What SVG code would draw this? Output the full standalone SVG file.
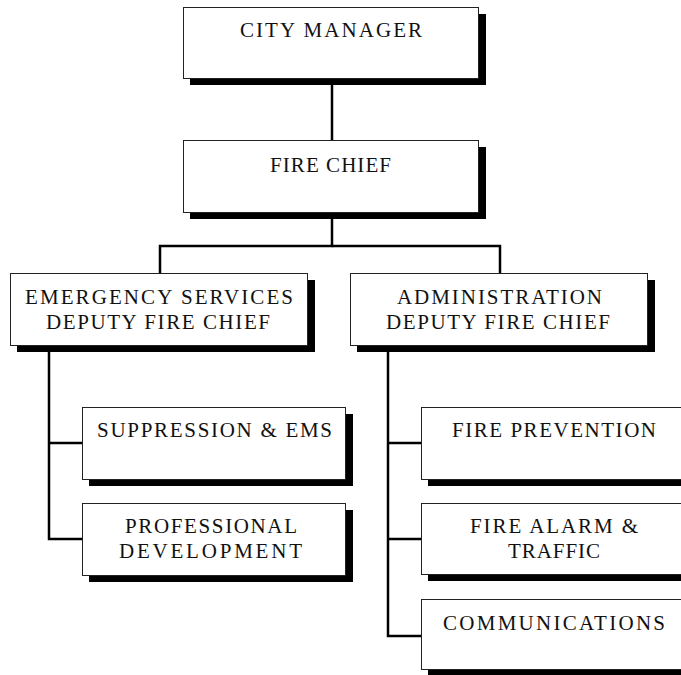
<svg xmlns="http://www.w3.org/2000/svg" width="681" height="675" viewBox="0 0 681 675">
<style>
.shadow{fill:#000}
.box{fill:#fff;stroke:#222;stroke-width:1}
.lbl{font-family:'Liberation Serif','Times New Roman',Times,serif;font-size:21px;fill:#111}
.conn{fill:none;stroke:#000;stroke-width:2.5}
</style>
<rect width="681" height="675" fill="#fff"/>
<g id="connectors">
<line class="conn" x1="332" y1="85" x2="332" y2="140"/>
<polyline class="conn" points="332,219 332,246 160,246 160,273"/>
<polyline class="conn" points="332,246 500,246 500,273"/>
<polyline class="conn" points="49,352 49,539 82,539"/>
<line class="conn" x1="49" y1="443" x2="82" y2="443"/>
<polyline class="conn" points="388,352 388,636 421,636"/>
<line class="conn" x1="388" y1="443" x2="421" y2="443"/>
<line class="conn" x1="388" y1="539" x2="421" y2="539"/>
</g>
<g id="city-manager">
<rect class="shadow" x="190" y="14" width="296" height="71"/>
<rect class="box" x="183.5" y="7.5" width="295" height="71"/>
<text class="lbl" font-family="Liberation Serif, serif" x="240" y="37" textLength="182" lengthAdjust="spacing">CITY MANAGER</text>
</g>
<g id="fire-chief">
<rect class="shadow" x="190" y="147" width="296" height="72"/>
<rect class="box" x="183.5" y="140.5" width="295" height="72"/>
<text class="lbl" x="270" y="172" textLength="121" lengthAdjust="spacing">FIRE CHIEF</text>
</g>
<g id="emergency-services">
<rect class="shadow" x="17" y="280" width="298" height="72"/>
<rect class="box" x="10.5" y="273.5" width="297" height="72"/>
<text class="lbl" x="25" y="304" textLength="268" lengthAdjust="spacing">EMERGENCY SERVICES</text>
<text class="lbl" x="46" y="329" textLength="224" lengthAdjust="spacing">DEPUTY FIRE CHIEF</text>
</g>
<g id="administration">
<rect class="shadow" x="357" y="280" width="298" height="72"/>
<rect class="box" x="350.5" y="273.5" width="297" height="72"/>
<text class="lbl" x="397" y="304" textLength="205" lengthAdjust="spacing">ADMINISTRATION</text>
<text class="lbl" x="386" y="329" textLength="224" lengthAdjust="spacing">DEPUTY FIRE CHIEF</text>
</g>
<g id="suppression-ems">
<rect class="shadow" x="89" y="414" width="264" height="72"/>
<rect class="box" x="82.5" y="407.5" width="263" height="72"/>
<text class="lbl" x="97" y="437" textLength="235" lengthAdjust="spacing">SUPPRESSION &amp; EMS</text>
</g>
<g id="professional-development">
<rect class="shadow" x="89" y="510" width="264" height="72"/>
<rect class="box" x="82.5" y="503.5" width="263" height="72"/>
<text class="lbl" x="125" y="533" textLength="172" lengthAdjust="spacing">PROFESSIONAL</text>
<text class="lbl" x="119" y="558" textLength="183" lengthAdjust="spacing">DEVELOPMENT</text>
</g>
<g id="fire-prevention">
<rect class="shadow" x="428" y="414" width="264" height="72"/>
<rect class="box" x="421.5" y="407.5" width="263" height="72"/>
<text class="lbl" x="452" y="437" textLength="204" lengthAdjust="spacing">FIRE PREVENTION</text>
</g>
<g id="fire-alarm-traffic">
<rect class="shadow" x="428" y="510" width="264" height="71"/>
<rect class="box" x="421.5" y="503.5" width="263" height="71"/>
<text class="lbl" x="470" y="533" textLength="168" lengthAdjust="spacing">FIRE ALARM &amp;</text>
<text class="lbl" x="508" y="558" textLength="92" lengthAdjust="spacing">TRAFFIC</text>
</g>
<g id="communications">
<rect class="shadow" x="428" y="606" width="264" height="70"/>
<rect class="box" x="421.5" y="599.5" width="263" height="70"/>
<text class="lbl" x="443" y="630" textLength="222" lengthAdjust="spacing">COMMUNICATIONS</text>
</g>
</svg>
